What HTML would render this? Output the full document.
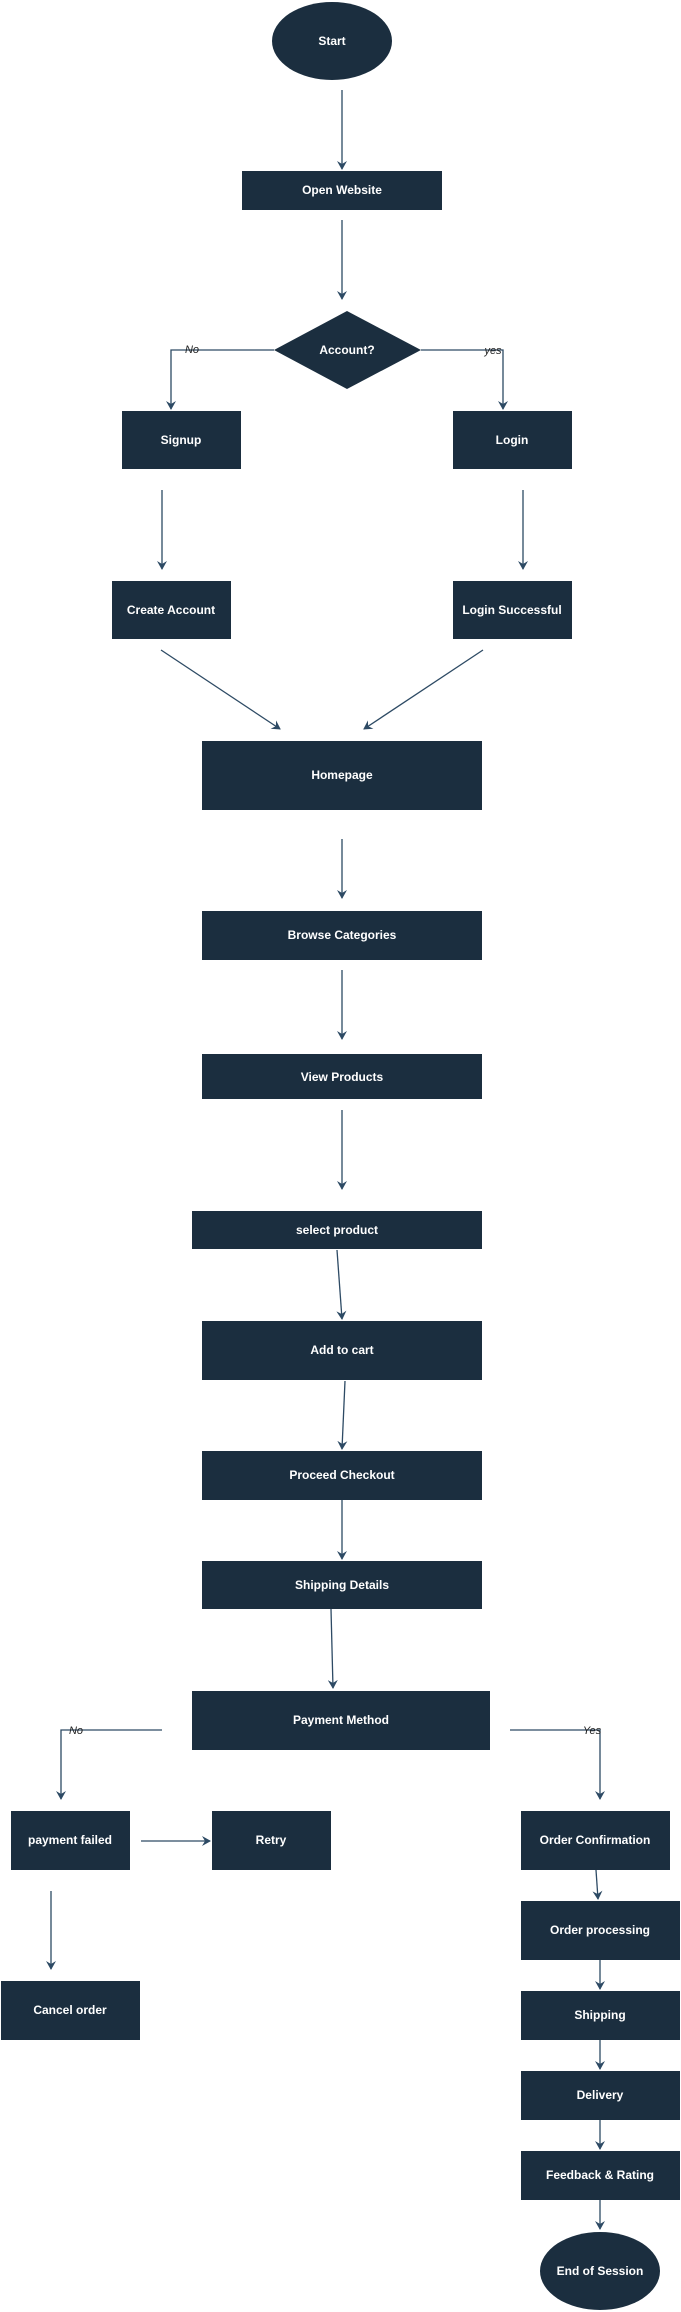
<!DOCTYPE html>
<html><head><meta charset="utf-8"><style>
html,body{margin:0;padding:0;background:#fff;}
svg{display:block;}
text{font-family:"Liberation Sans",Arial,sans-serif;}
.b{fill:#1b2e3f;}
.t{fill:#fff;font-weight:bold;font-size:12px;text-anchor:middle;dominant-baseline:central;}
.l{stroke:#2d4a64;stroke-width:1.3;fill:none;}
.lab{font-size:11px;font-style:italic;fill:#222;text-anchor:middle;dominant-baseline:central;}
</style></head><body>
<svg width="681" height="2312" viewBox="0 0 681 2312" xmlns="http://www.w3.org/2000/svg">
<defs><marker id="a" markerWidth="10" markerHeight="10" refX="8" refY="5" orient="auto" markerUnits="userSpaceOnUse"><path d="M0,0 L9,5 L0,10 L3,5 z" fill="#2d4a64"/></marker></defs>

<ellipse class="b" cx="332" cy="41" rx="60" ry="39"/><text class="t" x="332" y="41">Start</text>
<line class="l" x1="342" y1="90" x2="342" y2="169" marker-end="url(#a)"/>
<rect class="b" x="242" y="171" width="200" height="39"/><text class="t" x="342" y="190">Open Website</text>
<line class="l" x1="342" y1="220" x2="342" y2="299" marker-end="url(#a)"/>
<polygon class="b" points="274,350 347,311 421,350 347,389"/><text class="t" x="347" y="350">Account?</text>
<polyline class="l" points="274,350 171,350 171,409" marker-end="url(#a)"/>
<text class="lab" x="192" y="350">No</text>
<polyline class="l" points="421,350 503,350 503,409" marker-end="url(#a)"/>
<text class="lab" x="493" y="351">yes</text>
<rect class="b" x="122" y="411" width="119" height="58"/><text class="t" x="181" y="440">Signup</text>
<rect class="b" x="453" y="411" width="119" height="58"/><text class="t" x="512" y="440">Login</text>
<line class="l" x1="162" y1="490" x2="162" y2="569" marker-end="url(#a)"/>
<line class="l" x1="523" y1="490" x2="523" y2="569" marker-end="url(#a)"/>
<rect class="b" x="112" y="581" width="119" height="58"/><text class="t" x="171" y="610">Create Account</text>
<rect class="b" x="453" y="581" width="119" height="58"/><text class="t" x="512" y="610">Login Successful</text>
<line class="l" x1="161" y1="650" x2="280" y2="729" marker-end="url(#a)"/>
<line class="l" x1="483" y1="650" x2="364" y2="729" marker-end="url(#a)"/>
<rect class="b" x="202" y="741" width="280" height="69"/><text class="t" x="342" y="775">Homepage</text>
<line class="l" x1="342" y1="839" x2="342" y2="898" marker-end="url(#a)"/>
<rect class="b" x="202" y="911" width="280" height="49"/><text class="t" x="342" y="935">Browse Categories</text>
<line class="l" x1="342" y1="970" x2="342" y2="1039" marker-end="url(#a)"/>
<rect class="b" x="202" y="1054" width="280" height="45"/><text class="t" x="342" y="1077">View Products</text>
<line class="l" x1="342" y1="1110" x2="342" y2="1189" marker-end="url(#a)"/>
<rect class="b" x="192" y="1211" width="290" height="38"/><text class="t" x="337" y="1230">select product</text>
<line class="l" x1="337" y1="1250" x2="342" y2="1319" marker-end="url(#a)"/>
<rect class="b" x="202" y="1321" width="280" height="59"/><text class="t" x="342" y="1350">Add to cart</text>
<line class="l" x1="345" y1="1381" x2="342" y2="1449" marker-end="url(#a)"/>
<rect class="b" x="202" y="1451" width="280" height="49"/><text class="t" x="342" y="1475">Proceed Checkout</text>
<line class="l" x1="342" y1="1500" x2="342" y2="1559" marker-end="url(#a)"/>
<rect class="b" x="202" y="1561" width="280" height="48"/><text class="t" x="342" y="1585">Shipping Details</text>
<line class="l" x1="331" y1="1609" x2="333" y2="1688" marker-end="url(#a)"/>
<rect class="b" x="192" y="1691" width="298" height="59"/><text class="t" x="341" y="1720">Payment Method</text>
<polyline class="l" points="162,1730 61,1730 61,1799" marker-end="url(#a)"/>
<text class="lab" x="76" y="1731">No</text>
<polyline class="l" points="510,1730 600,1730 600,1799" marker-end="url(#a)"/>
<text class="lab" x="592" y="1731">Yes</text>
<rect class="b" x="11" y="1811" width="119" height="59"/><text class="t" x="70" y="1840">payment failed</text>
<line class="l" x1="141" y1="1841" x2="210" y2="1841" marker-end="url(#a)"/>
<rect class="b" x="212" y="1811" width="119" height="59"/><text class="t" x="271" y="1840">Retry</text>
<line class="l" x1="51" y1="1891" x2="51" y2="1969" marker-end="url(#a)"/>
<rect class="b" x="1" y="1981" width="139" height="59"/><text class="t" x="70" y="2010">Cancel order</text>
<rect class="b" x="521" y="1811" width="149" height="59"/><text class="t" x="595" y="1840">Order Confirmation</text>
<line class="l" x1="596" y1="1870" x2="598" y2="1899" marker-end="url(#a)"/>
<rect class="b" x="521" y="1901" width="159" height="59"/><text class="t" x="600" y="1930">Order processing</text>
<line class="l" x1="600" y1="1960" x2="600" y2="1989" marker-end="url(#a)"/>
<rect class="b" x="521" y="1991" width="159" height="49"/><text class="t" x="600" y="2015">Shipping</text>
<line class="l" x1="600" y1="2040" x2="600" y2="2069" marker-end="url(#a)"/>
<rect class="b" x="521" y="2071" width="159" height="49"/><text class="t" x="600" y="2095">Delivery</text>
<line class="l" x1="600" y1="2120" x2="600" y2="2149" marker-end="url(#a)"/>
<rect class="b" x="521" y="2151" width="159" height="49"/><text class="t" x="600" y="2175">Feedback &amp; Rating</text>
<line class="l" x1="600" y1="2200" x2="600" y2="2229" marker-end="url(#a)"/>
<ellipse class="b" cx="600" cy="2271" rx="60" ry="39"/><text class="t" x="600" y="2271">End of Session</text>
</svg>
</body></html>
